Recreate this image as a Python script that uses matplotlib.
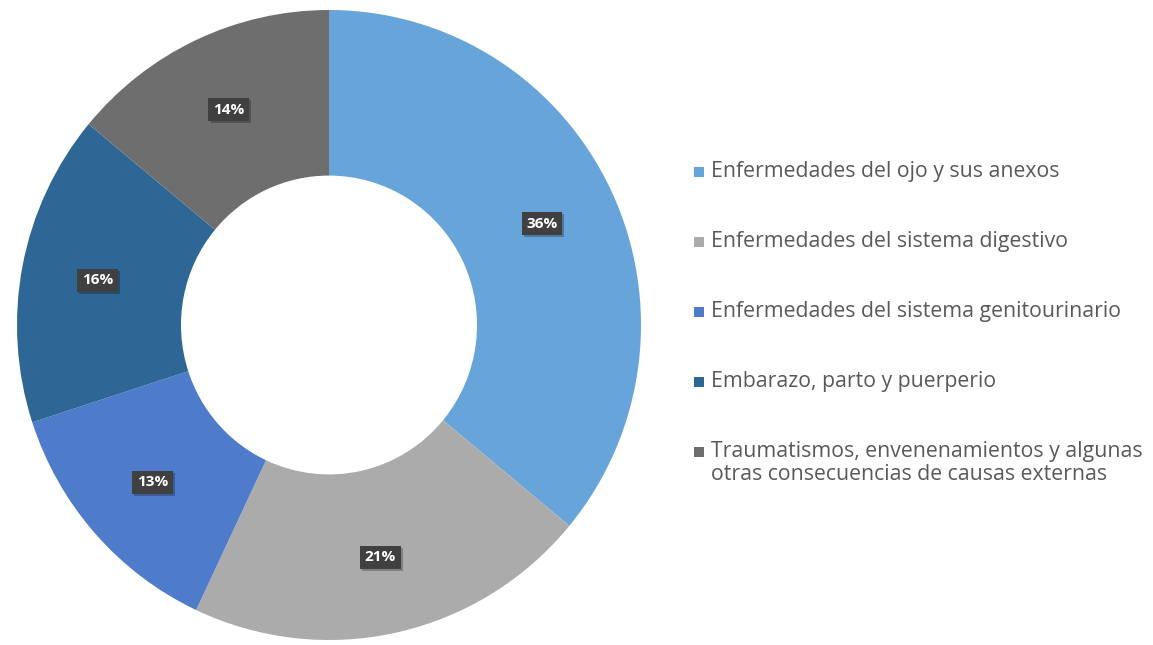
"""Doughnut chart - distribution by disease group"""
import matplotlib.pyplot as plt
import matplotlib.patheffects as pe
from matplotlib.patches import Rectangle

categorias = [
    'Enfermedades del ojo y sus anexos',
    'Enfermedades del sistema digestivo',
    'Enfermedades del sistema genitourinario',
    'Embarazo, parto y puerperio',
    'Traumatismos, envenenamientos y algunas\notras consecuencias de causas externas',
]
porcentajes = [36, 21, 13, 16, 14]
colores = ['#67A4DA', '#ABABAB', '#4F7BCB', '#2E6696', '#6E6E6E']

plt.rcParams['font.family'] = ['Open Sans', 'DejaVu Sans']

fig = plt.figure(figsize=(11.53, 6.45), dpi=100)
fig.patch.set_facecolor('white')

# pie axes: centre at (329, 325) px, radius ~312 x 315 px
ax = fig.add_axes([17 / 1153, 5 / 645, 624 / 1153, 630 / 645])

ancho = 1 - 148 / 312
wedges, textos = ax.pie(porcentajes, colors=colores, startangle=90, counterclock=False,
                        radius=1, wedgeprops=dict(width=ancho, linewidth=0),
                        labels=[f'{p}%' for p in porcentajes], labeldistance=0.755)
ax.set_xlim(-1, 1)
ax.set_ylim(-1, 1)
ax.set_aspect('auto')
ax.axis('off')

for t in textos:
    t.set_ha('center')
    t.set_va('center')
    t.set_color('white')
    t.set_fontweight('bold')
    t.set_fontsize(11)
    t.set_bbox(dict(boxstyle='square,pad=0.3', facecolor='#404040', edgecolor='none'))
    t.get_bbox_patch().set_path_effects([
        pe.SimplePatchShadow(offset=(1.5, -1.5), shadow_rgbFace='black', alpha=0.25),
        pe.Normal()])

# legend drawn as squares and text on the right
y0 = 172
paso = 70
for i, (cat, col) in enumerate(zip(categorias, colores)):
    y = y0 + i * paso
    fig.patches.append(Rectangle((694 / 1153, 1 - (y + 5) / 645), 10 / 1153, 10 / 645,
                                 transform=fig.transFigure, facecolor=col, edgecolor='none'))
    fig.text(711 / 1153, 1 - (y - 11) / 645, cat, fontsize=15.3, color='#595959',
             ha='left', va='top', linespacing=1.12)

fig.savefig('out.png', dpi=100, facecolor='white')
plt.close()
